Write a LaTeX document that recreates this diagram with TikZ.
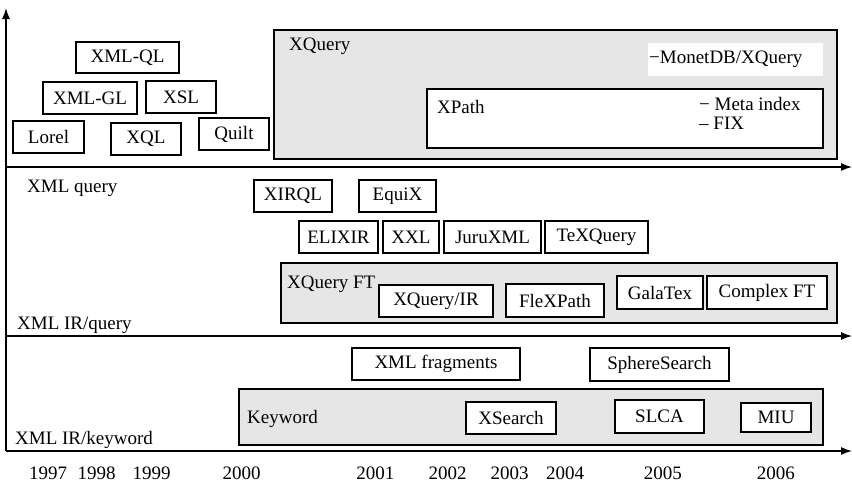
\documentclass[tikz,border=0pt]{standalone}
\usepackage{fontspec}
\setmainfont{Liberation Serif}
\usetikzlibrary{arrows.meta}
\definecolor{boxgray}{RGB}{230,230,230}
\begin{document}
\begin{tikzpicture}[x=1pt,y=-1pt,
  font=\fontsize{19}{22}\selectfont,
  every node/.style={inner sep=0pt},
  item/.style={draw=black, line width=1.3pt, fill=white, rectangle},
  group/.style={draw=black, line width=1.3pt, fill=boxgray, rectangle},
  lbl/.style={anchor=base west},
  yr/.style={anchor=base},
  axis/.style={line width=1.3pt, -{Latex[length=11pt,width=8pt]}}]
\useasboundingbox (0,0) rectangle (852,483);
% axes
\coordinate (o) at (6,451);
\coordinate (top) at (6,8);
\coordinate (l1s) at (6,167);   \coordinate (l1e) at (852,167);
\coordinate (l2s) at (6,336);   \coordinate (l2e) at (852,336);
\coordinate (l3e) at (852,451);
\draw[axis] (o) -- (top);
\draw[axis] (l1s) -- (l1e);
\draw[axis] (l2s) -- (l2e);
\draw[axis] (o) -- (l3e);
% XML query region
\node[item, minimum width=103pt, minimum height=31pt] (xmlql) at (127.5,57.5) {XML-QL};
\node[item, minimum width=94pt, minimum height=32pt] (xmlgl) at (90,98) {XML-GL};
\node[item, minimum width=70pt, minimum height=32pt] (xsl) at (181,97) {XSL};
\node[item, minimum width=71pt, minimum height=32pt] (lorel) at (48.5,137) {Lorel};
\node[item, minimum width=70pt, minimum height=32pt] (xql) at (146,139) {XQL};
\node[item, minimum width=70pt, minimum height=32pt] (quilt) at (234,134) {Quilt};
\node[group, minimum width=563pt, minimum height=129pt] (xqbox) at (555.5,94.5) {};
\node[lbl] (xqlbl) at (289,50) {XQuery};
\node[fill=white, minimum width=175pt, minimum height=33pt, text width=173pt, align=left, anchor=west] (monet) at (648,59.5) {−MonetDB/XQuery};
\node[item, minimum width=396pt, minimum height=59pt] (xpath) at (625,118.5) {};
\node[lbl] (xplbl) at (437,113) {XPath};
\node[anchor=north west, align=left, font=\fontsize{19}{19}\selectfont] (meta) at (699,97) {− Meta index\\– FIX};
\node[lbl] (lq) at (27,192.5) {XML query};
% XML IR/query region
\node[item, minimum width=78pt, minimum height=32pt] (xirql) at (293,196) {XIRQL};
\node[item, minimum width=77pt, minimum height=32pt] (equix) at (397.5,196) {EquiX};
\node[item, minimum width=79pt, minimum height=32pt] (elixir) at (338.5,237) {ELIXIR};
\node[item, minimum width=56pt, minimum height=32pt] (xxl) at (411,237) {XXL};
\node[item, minimum width=97pt, minimum height=32pt] (juru) at (492.5,237) {JuruXML};
\node[item, minimum width=103pt, minimum height=32pt] (texq) at (596.5,237) {TeXQuery};
\node[group, minimum width=556pt, minimum height=60pt] (ftbox) at (559,293) {};
\node[lbl] (ftlbl) at (287,288) {XQuery FT};
\node[item, minimum width=114pt, minimum height=32pt] (xqir) at (436,301) {XQuery/IR};
\node[item, minimum width=98pt, minimum height=33pt] (flex) at (555,300.5) {FleXPath};
\node[item, minimum width=86pt, minimum height=33pt] (gala) at (660,292.5) {GalaTex};
\node[item, minimum width=120pt, minimum height=33pt] (cft) at (767,292.5) {Complex FT};
\node[lbl] (lirq) at (17,329) {XML IR/query};
% XML IR/keyword region
\node[item, minimum width=168pt, minimum height=32pt] (frag) at (436,364) {XML fragments};
\node[item, minimum width=139pt, minimum height=33pt] (sphere) at (659.5,364.5) {SphereSearch};
\node[group, minimum width=584pt, minimum height=56pt] (kwbox) at (531,417) {};
\node[lbl] (kwlbl) at (247,423) {Keyword};
\node[item, minimum width=90pt, minimum height=32pt] (xsearch) at (511,418) {XSearch};
\node[item, minimum width=89pt, minimum height=33pt] (slca) at (659.5,416.5) {SLCA};
\node[item, minimum width=70pt, minimum height=29pt] (miu) at (776,417.5) {MIU};
\node[lbl] (lirk) at (15,444) {XML IR/keyword};
% years
\node[yr] (y97) at (48,479.5) {1997};
\node[yr] (y98) at (96.7,479.5) {1998};
\node[yr] (y99) at (151.7,479.5) {1999};
\node[yr] (y00) at (241.7,479.5) {2000};
\node[yr] (y01) at (375.3,479.5) {2001};
\node[yr] (y02) at (447.5,479.5) {2002};
\node[yr] (y03) at (509.5,479.5) {2003};
\node[yr] (y04) at (565,479.5) {2004};
\node[yr] (y05) at (662.8,479.5) {2005};
\node[yr] (y06) at (775.8,479.5) {2006};
\end{tikzpicture}
\end{document}
